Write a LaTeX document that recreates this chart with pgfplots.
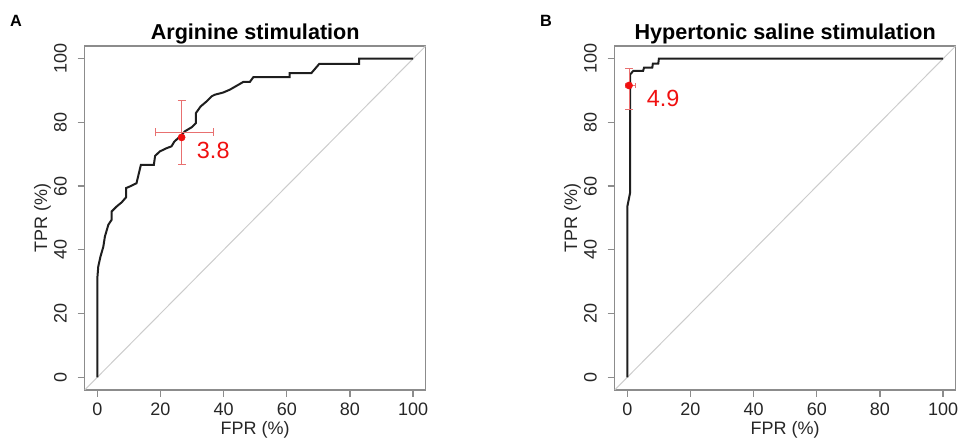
\documentclass[border=0pt]{standalone}
\usepackage{fontspec}
\setmainfont{Liberation Sans}
\usepackage{pgfplots}
\pgfplotsset{compat=1.18}

\definecolor{framegray}{HTML}{8C8C8C}
\definecolor{diaggray}{HTML}{CCCCCC}
\definecolor{errred}{HTML}{E87070}
\definecolor{ptred}{HTML}{F01010}
\definecolor{curve}{HTML}{1E1E1E}

\pgfplotsset{
  rocaxis/.style={
    scale only axis, width=341pt, height=344pt,
    xmin=-4, xmax=104, ymin=-4, ymax=104,
    xtick={0,20,...,100}, ytick={0,20,...,100},
    tick align=outside, major tick length=7pt,
    xtick pos=bottom, ytick pos=left,
    axis line style={framegray, line width=1.4pt},
    tick style={framegray, line width=1.3pt},
    /pgf/number format/assume math mode=true,
    ticklabel style={font=\fontsize{18}{18}\selectfont, text=black!85, inner sep=0pt},
    xticklabel style={anchor=north},
    yticklabel style={rotate=90, anchor=base},
    xticklabel shift=5.7pt, yticklabel shift=11pt,
    every axis x label/.style={at={(axis description cs:0.5,-0.1308)}, anchor=base,
      font=\fontsize{18}{18}\selectfont, text=black!85, inner sep=0pt},
    every axis y label/.style={at={(axis description cs:-0.1105,0.5)}, rotate=90, anchor=base,
      font=\fontsize{18}{18}\selectfont, text=black!85, inner sep=0pt},
    every axis title/.style={at={(axis description cs:0.5,1.0183)}, anchor=base, inner sep=0pt,
      font=\bfseries\fontsize{21.6}{22}\selectfont},
    xlabel={FPR (\%)}, ylabel={TPR (\%)},
  },
  % pgfplots turns the cap mark for y bars by 90 degrees, so both use |
  errstyle/.style 2 args={errred, mark=none,
    error bars/.cd, #1 dir=both, #1 explicit,
    error bar style={draw=errred, line width=1pt},
    error mark=|,
    error mark options={draw=errred, mark size=#2, line width=1pt}},
}

\begin{document}
\begin{tikzpicture}
\path[use as bounding box] (0,0) rectangle (962pt,443pt);

% panel A
\begin{axis}[rocaxis, at={(84.7pt,53pt)}, anchor=south west, title={Arginine stimulation}]
\addplot[diaggray, line width=1pt] coordinates {(-4,-4) (104,104)};
\addplot[curve, line width=2pt] coordinates {
(0,0) (0,31.1) (0.3,34.8) (1,37.9) (1.9,41) (2.4,44.2) (3.5,47.9) (4.5,49.4)
(4.5,52) (6.1,53.6) (7.7,54.9) (9.1,56.5) (9.1,59.4) (10.3,59.9) (12.4,60.9)
(13.8,66.7) (17.9,66.7) (18.3,69.5) (19.8,70.9) (21.9,71.9) (23.5,72.5)
(24.4,74) (26.2,75.6) (27.7,77.2) (29.9,78.5) (31.2,79.8) (31.2,82.9)
(32.7,85) (34.6,86.6) (36.2,88.2) (37.2,88.7) (39.9,89.4) (42,90.3)
(44.1,91.5) (46.2,92.7) (48.3,92.7) (49.4,94.2) (60.9,94.2) (60.9,95.5)
(67.8,95.5) (70.3,98.4) (82.9,98.4) (82.9,100) (100,100)};
\addplot[errstyle={x}{4pt}] coordinates {(26.7,76.9) += (10.2,0) -= (8.2,0)};
\addplot[errstyle={y}{4pt}] coordinates {(26.7,76.8) +- (0,10.1)};
\addplot[ptred, only marks, mark=*, mark size=3.6pt] coordinates {(26.7,75.3)};
\node[ptred, anchor=base west, inner sep=0pt, font=\fontsize{23.4}{24}\selectfont]
  at (axis cs:31.5,68.6) {3.8};
\end{axis}

% panel B
\begin{axis}[rocaxis, at={(614.7pt,53pt)}, anchor=south west, title={Hypertonic saline stimulation}]
\addplot[diaggray, line width=1pt] coordinates {(-4,-4) (104,104)};
\addplot[curve, line width=2pt] coordinates {
(0,0) (0,53.6) (0.85,57.8) (0.85,95.0) (1.9,96.2) (5,96.2) (5.3,97.2)
(7.9,97.2) (8.1,98.5) (9.8,98.5) (10,100) (100,100)};
\addplot[errstyle={x}{2.5pt}] coordinates {(0.54,91.6) += (2.1,0) -= (1.2,0)};
\addplot[errstyle={y}{4pt}] coordinates {(0.54,90.5) +- (0,6.4)};
\addplot[ptred, only marks, mark=*, mark size=3.6pt] coordinates {(0.54,91.6)};
\node[ptred, anchor=base west, inner sep=0pt, font=\fontsize{23.4}{24}\selectfont]
  at (axis cs:6.15,84.9) {4.9};
\end{axis}

\node[anchor=base west, inner sep=0pt, font=\bfseries\fontsize{16.3}{16}\selectfont] at (10pt,416.3pt) {A};
\node[anchor=base west, inner sep=0pt, font=\bfseries\fontsize{16.3}{16}\selectfont] at (540pt,416.3pt) {B};
\end{tikzpicture}
\end{document}
